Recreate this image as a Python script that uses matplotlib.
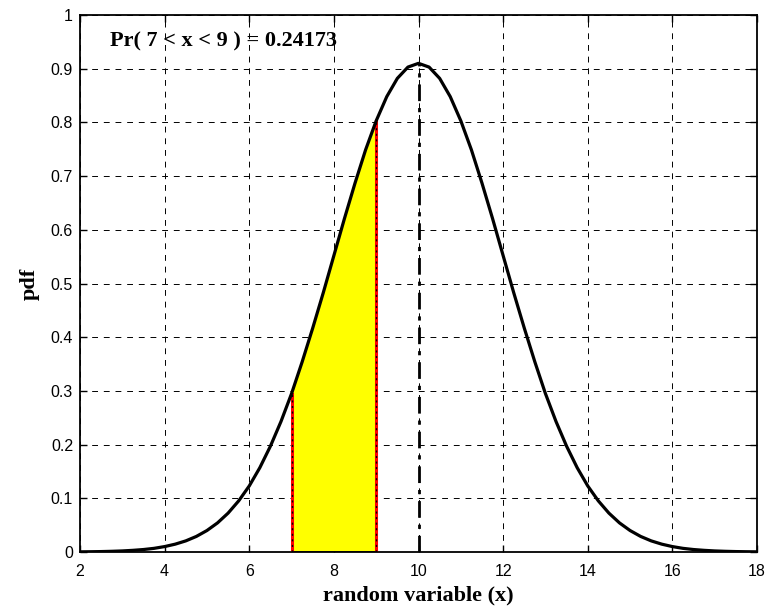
import matplotlib
matplotlib.use("Agg")
import matplotlib.pyplot as plt
import numpy as np

# Curve (x step 0.25 from 2 to 18)
x_vals = [2.0, 2.25, 2.5, 2.75, 3.0, 3.25, 3.5, 3.75, 4.0, 4.25, 4.5, 4.75,
          5.0, 5.25, 5.5, 5.75, 6.0, 6.25, 6.5, 6.75, 7.0, 7.25, 7.5, 7.75,
          8.0, 8.25, 8.5, 8.75, 9.0, 9.25, 9.5, 9.75, 10.0, 10.25, 10.5, 10.75,
          11.0, 11.25, 11.5, 11.75, 12.0, 12.25, 12.5, 12.75, 13.0, 13.25, 13.5,
          13.75, 14.0, 14.25, 14.5, 14.75, 15.0, 15.25, 15.5, 15.75, 16.0, 16.25,
          16.5, 16.75, 17.0, 17.25, 17.5, 17.75, 18.0]
pdf_vals = [0.0003, 0.0005, 0.0008, 0.0013, 0.0020, 0.0031, 0.0046, 0.0068,
            0.0101, 0.0146, 0.0207, 0.0290, 0.0400, 0.0542, 0.0724, 0.0952,
            0.123, 0.157, 0.197, 0.243, 0.295, 0.354, 0.417, 0.483,
            0.552, 0.621, 0.687, 0.749, 0.803, 0.848, 0.882, 0.903,
            0.910, 0.903, 0.882, 0.848, 0.803, 0.749, 0.687, 0.621,
            0.552, 0.483, 0.417, 0.354, 0.295, 0.243, 0.197, 0.157,
            0.123, 0.0952, 0.0724, 0.0542, 0.0400, 0.0290, 0.0207, 0.0146,
            0.0101, 0.0068, 0.0046, 0.0031, 0.0020, 0.0013, 0.0008, 0.0005, 0.0003]
lower, upper = 7, 9
mean_x = 10
prob_text = "Pr( 7 < x < 9 ) = 0.24173"
x_ticks = [2, 4, 6, 8, 10, 12, 14, 16, 18]
y_ticks = [0, 0.1, 0.2, 0.3, 0.4, 0.5, 0.6, 0.7, 0.8, 0.9, 1]
y_ticklabels = ["0", "0.1", "0.2", "0.3", "0.4", "0.5", "0.6", "0.7", "0.8", "0.9", "1"]

xa = np.array(x_vals)
ya = np.array(pdf_vals)

fig = plt.figure(figsize=(7.75, 6.11), dpi=100)
ax = fig.add_axes([80/775, 1 - 552/611, (757-80)/775, (552-15)/611])

mask = (xa >= lower) & (xa <= upper)
ax.fill_between(xa[mask], 0, ya[mask], color="yellow", edgecolor="none", zorder=2)
y_lo = ya[xa == lower][0]
y_hi = ya[xa == upper][0]
for xv, yv in ((lower, y_lo), (upper, y_hi)):
    ax.plot([xv, xv], [0, yv], color="red", lw=2.2, zorder=3)
    ax.plot([xv, xv], [0, yv], color="black", lw=1.0, ls=(0, (1.5, 2.5)), zorder=4)
ax.plot([lower, upper], [0, 0], color="black", lw=2, zorder=3)

ax.plot(xa, ya, color="black", lw=2.3, zorder=5)
peak = ya[xa == mean_x][0]
ax.plot([mean_x, mean_x], [0, peak], color="black", lw=2, ls=(0, (6, 2.5, 1.5, 2.5)), zorder=4)

ax.set_xlim(2, 18)
ax.set_ylim(0, 1)
ax.set_xticks(x_ticks)
ax.set_xticklabels([str(t) for t in x_ticks])
ax.set_yticks(y_ticks)
ax.set_yticklabels(y_ticklabels)
ax.grid(True, color="black", ls=(0, (6, 6)), lw=0.7)
ax.set_axisbelow(True)
for sp in ax.spines.values():
    sp.set_linewidth(1.3)
ax.tick_params(direction="in", length=5, width=1, labelsize=11.5, pad=5, top=True, right=True)
ax.tick_params(axis="x", pad=9)
for lab in ax.get_xticklabels() + ax.get_yticklabels():
    lab.set_family("Liberation Sans")

ax.set_xlabel("random variable (x)", family="Liberation Serif", fontweight="bold", fontsize=16, labelpad=4)
ax.set_ylabel("pdf", family="Liberation Serif", fontweight="bold", fontsize=16, labelpad=8)
ax.text(2.7, 0.951, prob_text, family="Liberation Serif", fontweight="bold", fontsize=16,
        va="center", ha="left", zorder=6)

fig.savefig("out.png", dpi=100)
